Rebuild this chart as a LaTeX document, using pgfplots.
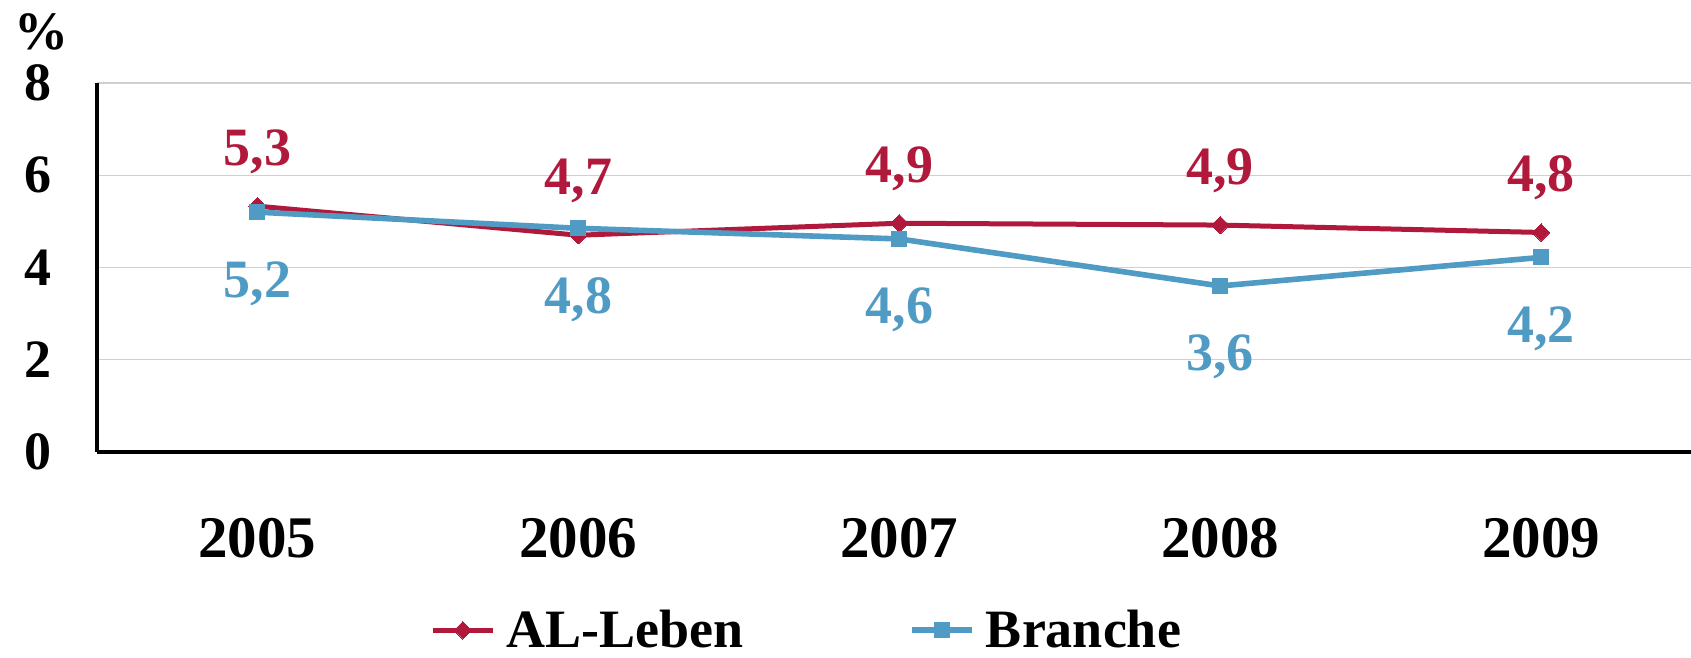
\documentclass[border=0pt]{standalone}
\usepackage{pgfplots}
\pgfplotsset{compat=1.18}
\usepackage{fontspec}
\setmainfont{Liberation Serif}
\definecolor{alred}{RGB}{176,25,60}
\definecolor{brblue}{RGB}{80,155,195}
\definecolor{gridgray}{RGB}{208,208,208}
\newcommand{\bigfont}{\fontsize{27bp}{30bp}\selectfont\bfseries}
\newcommand{\yearfont}{\fontsize{29.5bp}{32bp}\selectfont\bfseries}
\begin{document}
\begin{tikzpicture}
\useasboundingbox (-48.5bp,-103bp) rectangle (797bp,226bp);
\begin{axis}[
  scale only axis,
  width=797bp, height=184.5bp,
  xmin=-0.5, xmax=4.467,
  ymin=0, ymax=8,
  axis x line=bottom, axis y line=left,
  axis line style={line width=1.6bp, black, -},
  xtick={0,1,2,3,4},
  xticklabels={2005,2006,2007,2008,2009},
  ytick={0,2,4,6,8},
  major tick length=0pt,
  ymajorgrids,
  grid style={gridgray, line width=0.6bp},
  /pgf/number format/assume math mode=true,
  xticklabel style={font=\yearfont, anchor=base, inner sep=0pt, yshift=-52.5bp},
  yticklabel style={font=\bigfont, anchor=east, inner sep=0pt, xshift=-22.5bp},
  clip=false,
  point meta=explicit symbolic,
  nodes near coords,
  legend style={draw=none, fill=none, inner sep=0pt, font=\bigfont,
    legend columns=2,
    at={(0.2089,-0.539)}, anchor=south west,
    nodes={inner sep=0pt},
    /tikz/every odd column/.append style={column sep=5.5bp},
    /tikz/every even column/.append style={column sep=83bp}},
  legend image code/.code={\draw[mark repeat=2,mark phase=2,#1] plot coordinates {(0bp,0bp)(15bp,0bp)(30bp,0bp)};},
]
\addplot[color=alred, line width=2.5bp, mark=square*, mark size=3.1bp,
  mark options={rotate=45, solid, fill=alred, line width=0pt},
  nodes near coords style={font=\bigfont, text=alred, anchor=base, inner sep=0pt, yshift=20.5bp}]
  coordinates {(0,5.33)[5,3] (1,4.70)[4,7] (2,4.96)[4,9] (3,4.92)[4,9] (4,4.76)[4,8]};
\addlegendentry{AL-Leben}
\addplot[color=brblue, line width=2.8bp, mark=square*, mark size=3.75bp,
  mark options={solid, fill=brblue, line width=0pt},
  nodes near coords style={font=\bigfont, text=brblue, anchor=base, inner sep=0pt, yshift=-42.5bp}]
  coordinates {(0,5.20)[5,2] (1,4.85)[4,8] (2,4.62)[4,6] (3,3.60)[3,6] (4,4.22)[4,2]};
\addlegendentry{Branche}
\node[font=\bigfont, inner sep=0pt] at (axis description cs:-0.035,1.138) {\%};
\end{axis}
\end{tikzpicture}
\end{document}
